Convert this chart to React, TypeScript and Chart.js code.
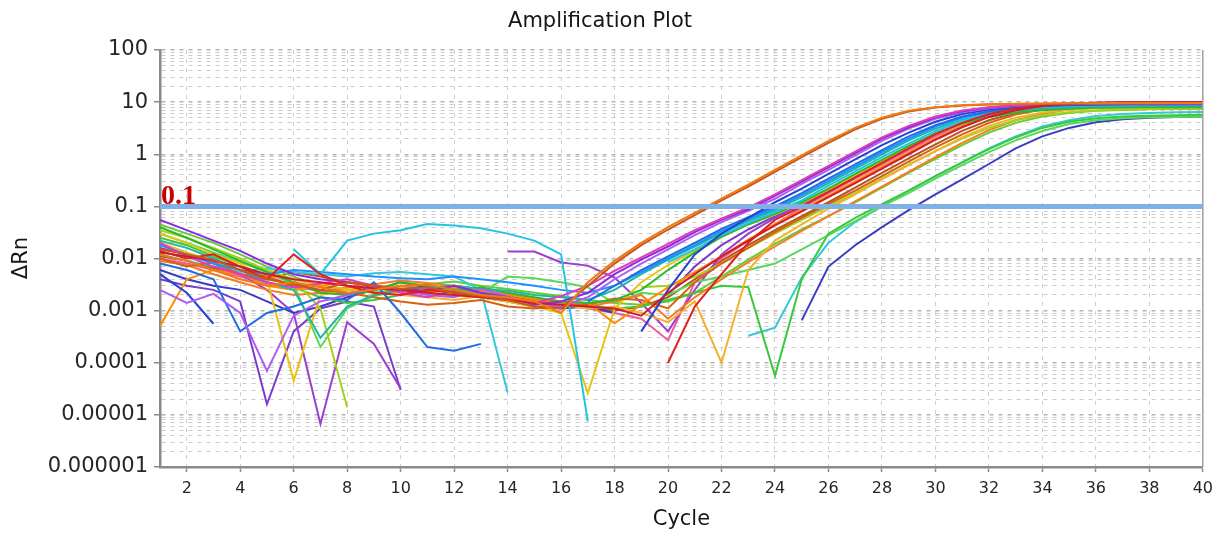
import React, { useEffect, useRef } from 'react';
import { Chart, registerables } from 'chart.js';

Chart.register(...registerables);

const _ = null;

const titleText = 'Amplification Plot';
const xAxisTitle = 'Cycle';
const yAxisTitle = 'ΔRn';
const thresholdValue = 0.1;
const thresholdLabel = '0.1';

const cycles = [1, 2, 3, 4, 5, 6, 7, 8, 9, 10, 11, 12, 13, 14, 15, 16, 17, 18, 19, 20,
  21, 22, 23, 24, 25, 26, 27, 28, 29, 30, 31, 32, 33, 34, 35, 36, 37, 38, 39, 40];
const xTickValues = [2, 4, 6, 8, 10, 12, 14, 16, 18, 20, 22, 24, 26, 28, 30, 32, 34, 36, 38, 40];
const yTickValues = [0.000001, 0.00001, 0.0001, 0.001, 0.01, 0.1, 1, 10, 100];
const yTickLabels = ['0.000001', '0.00001', '0.0001', '0.001', '0.01', '0.1', '1', '10', '100'];
const minorSteps = [1, 2, 3, 4, 5, 6, 7, 8, 9];

const s01 = [0.012, 0.009, 0.006, 0.004, 0.003, 0.0035, 0.0028, 0.0022, 0.0025, 0.003, 0.0032, 0.0025, 0.002, 0.0018, 0.0015, 0.0009, 0.0035, 0.009, 0.02, 0.04, 0.075, 0.14, 0.26, 0.5, 0.95, 1.8, 3.2, 5.0, 6.8, 8.0, 8.7, 9.1, 9.3, 9.4, 9.5, 9.5, 9.6, 9.6, 9.6, 9.6];
const s02 = [0.015, 0.012, 0.0095, 0.006, 0.004, 0.0032, 0.0025, 0.0035, 0.003, 0.0026, 0.0028, 0.0022, 0.0019, 0.0016, 0.0012, 0.0011, 0.003, 0.008, 0.018, 0.036, 0.068, 0.13, 0.24, 0.46, 0.88, 1.65, 3.0, 4.8, 6.6, 7.9, 8.6, 9.0, 9.2, 9.3, 9.4, 9.5, 9.5, 9.5, 9.6, 9.6];
const s03 = [0.02, 0.011, 0.007, 0.005, 0.0035, 0.0028, 0.0033, 0.004, 0.003, 0.0022, 0.0018, 0.0024, 0.002, 0.0017, 0.0014, 0.0019, 0.003, 0.0058, 0.0105, 0.019, 0.035, 0.058, 0.095, 0.17, 0.32, 0.6, 1.12, 2.1, 3.5, 5.3, 6.9, 8.0, 8.7, 9.1, 9.3, 9.4, 9.5, 9.5, 9.5, 9.5];
const s04 = [0.055, 0.035, 0.022, 0.014, 0.008, 0.005, 0.004, 0.0035, 0.003, 0.0026, 0.0024, 0.003, 0.0022, 0.0018, 0.0013, 0.0015, 0.0022, 0.005, 0.0095, 0.017, 0.032, 0.055, 0.088, 0.16, 0.3, 0.56, 1.05, 2.0, 3.3, 5.1, 6.7, 7.9, 8.6, 9.0, 9.2, 9.3, 9.4, 9.4, 9.5, 9.5];
const s05 = [0.0025, 0.0014, 0.0021, 0.0009, 0.00007, 0.0008, 0.0015, 0.002, 0.0028, 0.0024, 0.002, 0.0018, 0.0026, 0.0019, 0.0014, 0.0012, 0.0018, 0.004, 0.008, 0.015, 0.028, 0.05, 0.082, 0.14, 0.27, 0.5, 0.95, 1.8, 3.1, 4.8, 6.4, 7.6, 8.4, 8.9, 9.1, 9.3, 9.3, 9.4, 9.4, 9.4];
const s06 = [0.005, 0.0022, 0.00056, _, _, _, _, _, _, _, _, _, _, _, _, _, _, _, 0.0004, 0.0025, 0.012, 0.03, 0.06, 0.12, 0.22, 0.42, 0.8, 1.5, 2.6, 4.2, 5.9, 7.2, 8.1, 8.6, 8.9, 9.1, 9.2, 9.2, 9.3, 9.3];
const s07 = [0.008, 0.006, 0.004, 0.0004, 0.0009, 0.0012, 0.0018, 0.0016, 0.0035, 0.0009, 0.0002, 0.00017, 0.00023, _, _, _, 0.0015, 0.003, 0.006, 0.011, 0.02, 0.037, 0.062, 0.1, 0.18, 0.34, 0.64, 1.2, 2.2, 3.6, 5.3, 6.7, 7.7, 8.3, 8.7, 8.9, 9.0, 9.0, 9.0, 9.0];
const s08 = [_, _, _, _, _, 0.015, 0.005, 0.022, 0.03, 0.035, 0.046, 0.043, 0.038, 0.03, 0.022, 0.012, 0.0000075, _, _, 0.0085, 0.015, 0.028, 0.048, 0.078, 0.13, 0.25, 0.47, 0.88, 1.6, 2.8, 4.4, 6.0, 7.2, 8.0, 8.4, 8.6, 8.7, 8.8, 8.8, 8.8];
const s09 = [0.018, 0.012, 0.008, 0.006, 0.005, 0.006, 0.0055, 0.005, 0.0045, 0.0042, 0.004, 0.0045, 0.004, 0.0035, 0.003, 0.0025, 0.0022, 0.003, 0.0055, 0.01, 0.018, 0.034, 0.057, 0.092, 0.165, 0.31, 0.58, 1.1, 2.0, 3.4, 5.0, 6.4, 7.4, 8.1, 8.5, 8.7, 8.8, 8.9, 8.9, 8.9];
const s10 = [0.022, 0.016, 0.01, 0.006, 0.0035, 0.0025, 0.0003, 0.0012, 0.002, 0.0025, 0.0028, 0.003, 0.0026, 0.0024, 0.002, 0.0018, 0.0016, 0.0025, 0.005, 0.0095, 0.017, 0.031, 0.053, 0.085, 0.15, 0.28, 0.53, 1.0, 1.85, 3.1, 4.6, 5.9, 6.9, 7.6, 8.0, 8.3, 8.4, 8.5, 8.5, 8.5];
const s11 = [0.04, 0.025, 0.015, 0.009, 0.0055, 0.0035, 0.0022, 0.002, 0.0024, 0.0035, 0.003, 0.0025, 0.0028, 0.0022, 0.0018, 0.0015, 0.0014, 0.0016, 0.0025, 0.006, 0.013, 0.026, 0.045, 0.072, 0.12, 0.22, 0.42, 0.78, 1.45, 2.5, 3.9, 5.2, 6.3, 7.0, 7.5, 7.8, 7.9, 8.0, 8.0, 8.0];
const s12 = [0.014, 0.01, 0.012, 0.007, 0.004, 0.012, 0.005, 0.003, 0.0022, 0.002, 0.0025, 0.0022, 0.0018, _, _, _, _, _, _, 0.0001, 0.0012, 0.005, 0.02, 0.055, 0.1, 0.19, 0.36, 0.68, 1.3, 2.4, 4.0, 5.9, 7.5, 8.6, 9.3, 9.7, 9.9, 10.0, 10.0, 10.0];
const s13 = [0.0005, 0.004, 0.006, 0.005, 0.003, 0.0025, 0.003, 0.0035, 0.0028, 0.0025, 0.0022, 0.0028, 0.0024, 0.002, 0.0017, 0.0015, 0.0014, 0.00057, 0.0013, 0.0028, 0.0055, 0.011, 0.023, 0.045, 0.085, 0.16, 0.3, 0.57, 1.08, 2.0, 3.4, 5.2, 6.9, 8.2, 9.0, 9.4, 9.6, 9.7, 9.8, 9.8];
const s14 = [0.01, 0.007, 0.0085, 0.005, 0.0045, 0.003, 0.0025, 0.0022, 0.0018, 0.0015, 0.0013, 0.0014, 0.0016, 0.0012, 0.0011, 0.0012, 0.0013, 0.0017, 0.0016, 0.0011, 0.0035, 0.008, 0.016, 0.032, 0.06, 0.11, 0.2, 0.38, 0.72, 1.35, 2.4, 4.0, 5.8, 7.2, 8.1, 8.6, 8.9, 9.1, 9.2, 9.2];
const s15 = [0.03, 0.02, 0.012, 0.008, 0.004, 0.000045, 0.002, 0.0025, 0.003, 0.0028, 0.0022, 0.002, 0.0018, 0.0015, 0.0012, 0.0009, 0.000026, 0.0011, 0.0035, 0.0075, 0.014, 0.026, 0.045, 0.07, 0.115, 0.21, 0.39, 0.72, 1.35, 2.4, 3.8, 5.2, 6.4, 7.3, 7.9, 8.2, 8.4, 8.5, 8.5, 8.5];
const s16 = [0.02, 0.013, 0.009, 0.006, 0.0045, 0.004, 0.003, 0.0026, 0.0022, 0.002, 0.0018, 0.0016, 0.0019, 0.0015, 0.0012, 0.0013, 0.0011, 0.0012, 0.0009, 0.0006, 0.0015, 0.0001, 0.006, 0.022, 0.045, 0.09, 0.17, 0.33, 0.62, 1.15, 2.1, 3.5, 5.0, 6.3, 7.1, 7.6, 7.8, 7.9, 8.0, 8.0];
const s17 = [0.035, 0.025, 0.016, 0.01, 0.006, 0.004, 0.0011, 0.000014, _, _, _, _, _, _, _, _, _, _, 0.0028, 0.003, 0.0045, 0.008, 0.016, 0.03, 0.055, 0.1, 0.18, 0.34, 0.63, 1.15, 2.0, 3.2, 4.5, 5.6, 6.4, 6.9, 7.2, 7.4, 7.5, 7.5];
const s18 = [0.009, 0.0075, 0.005, 0.0035, 0.0025, 0.002, 0.0022, 0.0028, 0.0032, 0.0038, 0.0034, 0.003, 0.0026, 0.0021, 0.0016, 0.0014, 0.0012, 0.0015, 0.002, 0.0007, 0.0018, 0.004, 0.0085, 0.017, 0.034, 0.065, 0.125, 0.24, 0.46, 0.88, 1.65, 2.9, 4.5, 6.0, 7.2, 7.9, 8.4, 8.6, 8.7, 8.8];
const s19 = [0.025, 0.018, 0.011, 0.007, 0.0045, 0.0028, 0.0018, 0.0014, 0.0016, 0.002, 0.0023, 0.0026, 0.0022, 0.002, 0.0017, 0.0015, 0.0013, 0.0011, 0.0012, 0.0016, 0.0022, 0.003, 0.0028, 0.000056, 0.004, 0.03, 0.06, 0.11, 0.2, 0.38, 0.7, 1.25, 2.1, 3.2, 4.2, 4.9, 5.3, 5.5, 5.6, 5.7];
const s20 = [0.03, 0.02, 0.013, 0.0085, 0.0055, 0.0032, 0.0002, 0.0011, 0.0019, 0.0024, 0.0021, 0.0019, 0.0022, 0.0045, 0.0042, 0.0035, 0.0028, 0.0014, 0.0022, 0.002, 0.0035, 0.0045, 0.006, 0.008, 0.015, 0.028, 0.052, 0.1, 0.18, 0.34, 0.62, 1.1, 1.85, 2.8, 3.8, 4.5, 4.9, 5.1, 5.2, 5.3];
const s21 = [0.012, 0.009, 0.007, 0.0055, 0.0065, 0.0055, 0.005, 0.0045, 0.0052, 0.0055, 0.005, 0.0045, 0.0025, 0.000027, _, _, _, _, _, _, _, _, 0.00033, 0.00047, 0.0043, 0.02, 0.05, 0.1, 0.2, 0.38, 0.7, 1.3, 2.2, 3.4, 4.5, 5.4, 5.9, 6.2, 6.4, 6.5];
const s22 = [0.006, 0.004, 0.003, 0.0025, 0.0015, 0.0009, 0.0012, 0.0018, 0.0025, 0.0035, 0.0028, 0.0022, 0.0018, 0.0015, 0.0012, 0.0011, 0.0012, 0.0009, _, _, _, _, _, _, 0.00065, 0.007, 0.018, 0.04, 0.085, 0.17, 0.33, 0.65, 1.3, 2.2, 3.2, 4.1, 4.7, 5.0, 5.2, 5.3];
const s23 = [0.016, 0.012, 0.008, 0.005, 0.0025, 0.0009, 0.0000067, 0.0006, 0.00023, 0.000032, _, _, _, 0.0136, 0.0136, 0.0084, 0.0073, 0.0043, 0.0014, 0.0004, 0.0025, 0.012, 0.03, 0.06, 0.11, 0.2, 0.38, 0.72, 1.35, 2.4, 3.9, 5.6, 6.9, 7.8, 8.3, 8.6, 8.8, 8.9, 8.9, 9.0];
const s24 = [0.01, 0.008, 0.006, 0.0045, 0.0032, 0.0028, 0.0024, 0.0021, 0.0025, 0.0029, 0.0026, 0.0023, 0.002, 0.0017, 0.0015, 0.0013, 0.0011, 0.0009, 0.0007, 0.00027, 0.0035, 0.01, 0.022, 0.045, 0.095, 0.18, 0.34, 0.64, 1.2, 2.2, 3.7, 5.5, 7.0, 8.1, 8.8, 9.2, 9.4, 9.5, 9.5, 9.5];
const s25 = [0.013, 0.011, 0.009, 0.007, 0.005, 0.004, 0.0035, 0.003, 0.0027, 0.0025, 0.0022, 0.002, 0.0018, 0.0016, 0.0014, 0.0013, 0.0012, 0.0011, 0.0008, 0.0022, 0.005, 0.011, 0.022, 0.043, 0.08, 0.15, 0.28, 0.53, 1.0, 1.9, 3.3, 5.2, 7.0, 8.4, 9.3, 9.7, 9.9, 10.0, 10.1, 10.1];
const s26 = [0.004, 0.003, 0.0025, 0.0015, 0.000016, 0.0004, 0.0011, 0.0015, 0.0012, 0.00003, _, _, _, _, _, _, _, _, _, 0.002, 0.007, 0.018, 0.036, 0.065, 0.115, 0.21, 0.4, 0.75, 1.4, 2.5, 4.0, 5.6, 6.8, 7.6, 8.1, 8.4, 8.6, 8.7, 8.7, 8.7];
const s27 = [0.045, 0.03, 0.02, 0.012, 0.007, 0.0045, 0.003, 0.0025, 0.0022, 0.0026, 0.0032, 0.0036, 0.003, 0.0026, 0.0022, 0.0019, 0.0016, 0.0014, 0.0013, 0.0015, 0.0022, 0.0045, 0.0095, 0.019, 0.036, 0.065, 0.12, 0.23, 0.44, 0.82, 1.5, 2.6, 4.0, 5.3, 6.2, 6.8, 7.1, 7.3, 7.4, 7.4];
const s28 = [0.011, 0.009, 0.0065, 0.005, 0.004, 0.0055, 0.0045, 0.0035, 0.003, 0.0027, 0.003, 0.0026, 0.0021, 0.0019, 0.0016, 0.0014, 0.0012, 0.001, 0.0012, 0.0018, 0.004, 0.009, 0.018, 0.035, 0.065, 0.12, 0.23, 0.44, 0.83, 1.55, 2.8, 4.5, 6.2, 7.5, 8.3, 8.8, 9.0, 9.1, 9.2, 9.2];

const seriesList = [s01, s02, s25, s12, s03, s04, s05, s06, s07, s08, s09, s10, s11, s13, s14, s15, s16, s17, s18, s19, s20, s21, s22, s23, s24, s26, s27, s28];
const seriesColors = ['#ee7a12', '#c8561e', '#d01c30', '#e32020', '#e03cb4', '#8a2be2', '#b05cf0', '#2442d4', '#1f6fe0', '#22c4e4', '#1e90ff', '#1fb5a5', '#2cb82c', '#ff8c00', '#d9600f', '#e6c410', '#f2b22e', '#a2d21e', '#f57c22', '#3cc83c', '#5ad85a', '#34c9d6', '#3a3cc4', '#9b3fcf', '#f25aa0', '#7a3cc8', '#66cc33', '#b0581a'];

const yGridValues: number[] = yTickValues.flatMap((d, i) =>
  i < yTickValues.length - 1 ? minorSteps.map((m) => d * m) : [d]
);

const isDecade = (v: number) => {
  const l = Math.log10(v);
  return Math.abs(l - Math.round(l)) < 1e-7;
};

const FONT = '"DejaVu Sans", sans-serif';

export default function App() {
  const ref = useRef<HTMLCanvasElement>(null);

  useEffect(() => {
    if (!ref.current) return;

    const textPlugin = {
      id: 'amplTexts',
      afterDraw(chart: any) {
        const { ctx, chartArea, scales } = chart;
        ctx.save();
        ctx.strokeStyle = '#a2a2a2';
        ctx.lineWidth = 1.5;
        ctx.beginPath();
        ctx.moveTo(chartArea.right, chartArea.top);
        ctx.lineTo(chartArea.right, chartArea.bottom);
        ctx.stroke();

        ctx.fillStyle = '#161616';
        ctx.textAlign = 'center';
        ctx.textBaseline = 'middle';
        ctx.font = `21px ${FONT}`;
        ctx.fillText(titleText, 600, 22);
        ctx.font = `21px ${FONT}`;
        ctx.fillText(xAxisTitle, (chartArea.left + chartArea.right) / 2, 520);
        ctx.save();
        ctx.translate(22, 258);
        ctx.rotate(-Math.PI / 2);
        ctx.fillText(yAxisTitle, 0, 0);
        ctx.restore();

        const yPix = scales.y.getPixelForValue(thresholdValue);
        ctx.fillStyle = '#c40000';
        ctx.textAlign = 'left';
        ctx.textBaseline = 'alphabetic';
        ctx.font = 'bold 28px "Liberation Serif", serif';
        ctx.fillText(thresholdLabel, chartArea.left + 1, yPix - 2);
        ctx.restore();
      },
    };

    const datasets: any[] = [
      {
        label: 'Threshold',
        data: [
          { x: cycles[0], y: thresholdValue },
          { x: cycles[cycles.length - 1], y: thresholdValue },
        ],
        borderColor: '#7fb1e4',
        borderWidth: 5,
        pointRadius: 0,
        fill: false,
      },
      ...seriesList.map((s, i) => ({
        label: `Well ${i + 1}`,
        data: cycles.map((c, j) => ({ x: c, y: s[j] })),
        borderColor: seriesColors[i],
        borderWidth: 2,
        pointRadius: 0,
        tension: 0,
        fill: false,
        spanGaps: false,
      })),
    ];

    const chart = new Chart(ref.current, {
      type: 'line',
      data: { datasets },
      plugins: [textPlugin],
      options: {
        animation: false,
        responsive: true,
        maintainAspectRatio: false,
        layout: { padding: { top: 50, right: 17, left: 0, bottom: 0 } },
        plugins: {
          legend: { display: false },
          tooltip: { enabled: false },
          title: { display: false },
        },
        scales: {
          x: {
            type: 'linear',
            min: 1,
            max: 40,
            afterBuildTicks: (scale: any) => {
              scale.ticks = xTickValues.map((v) => ({ value: v }));
            },
            afterFit: (scale: any) => {
              scale.height = 68;
            },
            ticks: {
              autoSkip: false,
              maxRotation: 0,
              padding: 7,
              color: '#262626',
              font: { family: FONT, size: 16 },
              callback: (v: any) => String(v),
            },
            grid: {
              color: '#d0d0d0',
              lineWidth: 1,
              tickLength: 5,
              tickColor: '#8a8a8a',
              tickWidth: 1.5,
              tickBorderDash: [],
            },
            border: { color: '#8a8a8a', width: 2.5, dash: [4, 5] },
          },
          y: {
            type: 'logarithmic',
            min: 0.000001,
            max: 100,
            afterBuildTicks: (scale: any) => {
              scale.ticks = yGridValues.map((v) => ({ value: v }));
            },
            afterFit: (scale: any) => {
              scale.width = 160;
            },
            ticks: {
              autoSkip: false,
              padding: 6,
              color: '#262626',
              font: { family: FONT, size: 21 },
              callback: (v: any) => {
                const i = yTickValues.findIndex(
                  (d) => Math.abs(Math.log10(d) - Math.log10(Number(v))) < 1e-7
                );
                return i >= 0 ? yTickLabels[i] : '';
              },
            },
            grid: {
              color: (c: any) => (c.tick && isDecade(c.tick.value) ? '#b4b4b4' : '#cbcbcb'),
              lineWidth: (c: any) => (c.tick && isDecade(c.tick.value) ? 1.5 : 1),
              tickLength: 6,
              tickColor: (c: any) =>
                c.tick && isDecade(c.tick.value) ? '#8a8a8a' : 'rgba(0,0,0,0)',
              tickWidth: 1.5,
              tickBorderDash: [],
            },
            border: {
              color: '#8a8a8a',
              width: 2.5,
              dash: [4, 5],
            },
          },
        },
      } as any,
    });

    return () => chart.destroy();
  }, []);

  return (
    <div
      style={{
        position: 'fixed',
        left: 0,
        top: 0,
        width: 1220,
        height: 535,
        background: '#ffffff',
      }}
    >
      <canvas ref={ref} />
    </div>
  );
}
